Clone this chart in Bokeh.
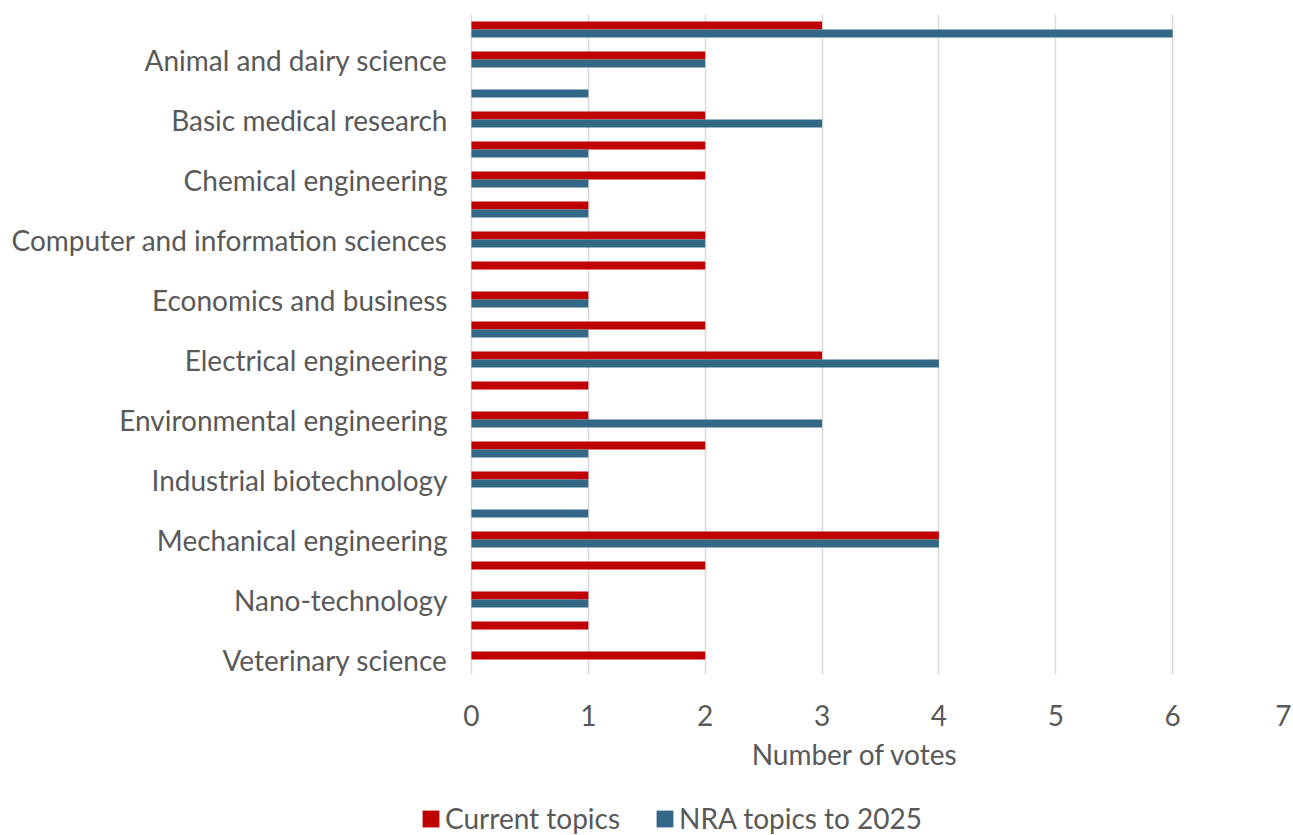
from bokeh.plotting import figure
from bokeh.models import ColumnDataSource, Range1d, FixedTicker, Legend, LegendItem
from bokeh.layouts import column
from bokeh.transform import dodge
from bokeh.embed import file_html
from bokeh.resources import INLINE

# Fields (only every second label is printed in the reference)
categories = [
    "", "Animal and dairy science", "", "Basic medical research", "",
    "Chemical engineering", "", "Computer and information sciences", "",
    "Economics and business", "", "Electrical engineering", "",
    "Environmental engineering", "", "Industrial biotechnology", "",
    "Mechanical engineering", "", "Nano-technology", "", "Veterinary science",
]
current_topics = [3, 2, 0, 2, 2, 2, 1, 2, 2, 1, 2, 3, 1, 1, 2, 1, 0, 4, 2, 1, 1, 2]
nra_topics_2025 = [6, 2, 1, 3, 1, 1, 1, 2, 0, 1, 1, 4, 0, 3, 1, 1, 1, 4, 0, 1, 0, 0]
series_names = ["Current topics", "NRA topics to 2025"]
x_ticks = [0, 1, 2, 3, 4, 5, 6, 7]

RED = "#C00000"
BLUE = "#336887"
TXT = "#595959"
FONT = "Lato"
FS = "28px"

idx = list(range(len(categories)))
src = ColumnDataSource(dict(y=idx, cur=current_topics, nra=nra_topics_2025))

# frame starts a little left of zero so the legend strip lines up with it
p = figure(width=1291, height=790, output_backend="svg", toolbar_location=None,
           x_range=Range1d(-0.436, 7), y_range=Range1d(len(categories) - 0.5, -0.5),
           min_border_left=420, min_border_right=2, min_border_top=14, min_border_bottom=116)

bh = 0.2667
p.hbar(y=dodge("y", -bh / 2), right="cur", left=0, height=bh, source=src,
       fill_color=RED, line_color=None)
p.hbar(y=dodge("y", bh / 2), right="nra", left=0, height=bh, source=src,
       fill_color=BLUE, line_color=None)

p.outline_line_color = None
p.ygrid.grid_line_color = None
p.xgrid.grid_line_color = "#D9D9D9"
p.xgrid.grid_line_width = 1.5
p.xgrid.ticker = FixedTicker(ticks=x_ticks)

p.xaxis.ticker = FixedTicker(ticks=x_ticks)
p.xaxis.axis_line_color = None
p.xaxis.major_tick_line_color = None
p.xaxis.minor_tick_line_color = None
p.xaxis.major_label_text_font = FONT
p.xaxis.major_label_text_font_size = FS
p.xaxis.major_label_text_color = TXT
p.xaxis.major_label_standoff = 24
p.xaxis.axis_label = "Number of votes"
p.xaxis.axis_label_text_font = FONT
p.xaxis.axis_label_text_font_size = FS
p.xaxis.axis_label_text_font_style = "normal"
p.xaxis.axis_label_text_color = TXT
p.xaxis.axis_label_standoff = 8

shown = [i for i, c in enumerate(categories) if c]
p.yaxis.ticker = FixedTicker(ticks=shown)
p.yaxis.major_label_overrides = {i: categories[i] for i in shown}
p.yaxis.axis_line_color = None
p.yaxis.major_tick_line_color = None
p.yaxis.minor_tick_line_color = None
p.yaxis.major_label_text_font = FONT
p.yaxis.major_label_text_font_size = FS
p.yaxis.major_label_text_color = TXT
p.yaxis.major_label_standoff = -33

# Legend strip below the chart (its own bars are kept out of view)
pl = figure(width=1291, height=45, output_backend="svg", toolbar_location=None,
            x_range=Range1d(100, 101), y_range=Range1d(100, 101),
            min_border_left=420, min_border_right=2, min_border_top=0, min_border_bottom=0)
pl.axis.visible = False
pl.grid.visible = False
pl.outline_line_color = None
d1 = pl.hbar(y="y", right="cur", left=0, height=bh, source=src, fill_color=RED, line_color=None)
d2 = pl.hbar(y="y", right="nra", left=0, height=bh, source=src, fill_color=BLUE, line_color=None)
legend = Legend(items=[LegendItem(label=series_names[0], renderers=[d1]),
                       LegendItem(label=series_names[1], renderers=[d2])],
                orientation="horizontal", location=(0, 0),
                glyph_width=21, glyph_height=21, label_standoff=4, spacing=34,
                padding=0, margin=0, border_line_color=None, background_fill_alpha=0,
                label_text_font=FONT, label_text_font_size=FS, label_text_color=TXT)
pl.add_layout(legend, "center")

open("out.html", "w").write(file_html(column(p, pl, spacing=0), INLINE))
